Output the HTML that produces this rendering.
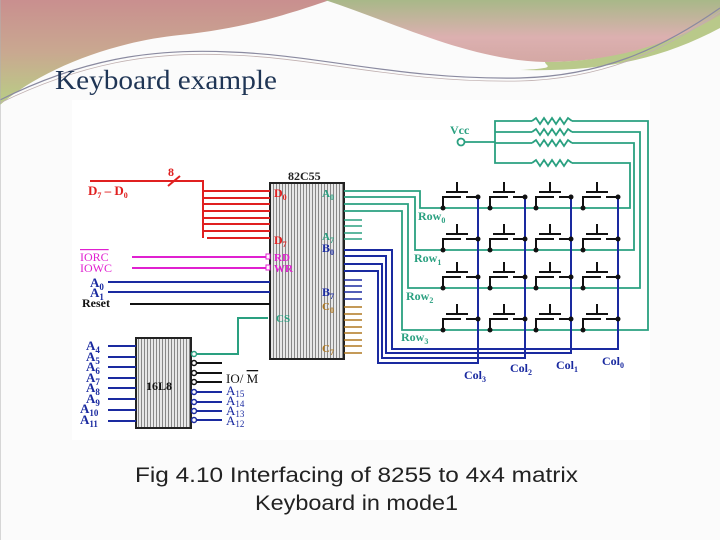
<!DOCTYPE html>
<html><head><meta charset="utf-8"><style>
html,body{margin:0;padding:0;background:#fff;}
svg{display:block}
</style></head><body>
<svg width="720" height="540" viewBox="0 0 720 540" xmlns="http://www.w3.org/2000/svg">
<defs>
<linearGradient id="g1" x1="0" y1="0" x2="0" y2="1"><stop offset="0" stop-color="#c98f8f"/><stop offset="0.5" stop-color="#c9a890"/><stop offset="1" stop-color="#b8cf85"/></linearGradient>
<linearGradient id="g2" x1="0" y1="0" x2="0" y2="1"><stop offset="0" stop-color="#a8b888"/><stop offset="0.6" stop-color="#dcb0b0"/><stop offset="1" stop-color="#d4a8a4"/></linearGradient>
<pattern id="dots" width="3" height="3" patternUnits="userSpaceOnUse"><rect width="3" height="3" fill="#e8e8e8"/><rect width="1" height="3" fill="#888"/></pattern>
</defs>
<rect width="720" height="540" fill="#fbfbfb"/>
<path d="M0,0 L330,0 C300,10 250,28 180,35 C110,42 40,70 0,105 Z" fill="url(#g1)"/>
<path d="M325,0 L720,0 L720,25 C660,50 600,62 545,62 C470,60 400,25 325,0 Z" fill="url(#g2)"/>
<path d="M545,62 C610,62 670,45 720,15 L720,28 C660,60 600,72 520,70 C560,68 545,66 545,62 Z" fill="#b9c98a"/>
<path d="M0,100 C80,60 150,48 230,52 C320,55 400,80 520,78 C600,76 660,50 720,8" fill="none" stroke="#8a8aa0" stroke-width="1.2"/>
<path d="M0,103 C80,64 150,51 230,55 C320,58 400,83 520,81 C600,79 660,53 720,12" fill="none" stroke="#c0b0b0" stroke-width="0.8"/>
<line x1="0" y1="0" x2="0" y2="540" stroke="#b0b0b0" stroke-width="1"/>
<text x="55" y="89" font-family="Liberation Serif, serif" font-size="27" fill="#1f3555" textLength="222" lengthAdjust="spacingAndGlyphs">Keyboard example</text>

<rect x="72" y="100" width="578" height="340" fill="#fff"/>

<rect x="270" y="183" width="74" height="176" fill="url(#dots)" stroke="#222" stroke-width="2"/>
<text x="288" y="180" font-family="Liberation Serif, serif" font-weight="bold" font-size="12" fill="#222">82C55</text>
<g stroke="#e02020" stroke-width="2" fill="none">
<polyline points="90,181 203,181 203,238"/>
<line x1="168" y1="186" x2="180" y2="176"/>
<line x1="203" y1="191" x2="270" y2="191"/><line x1="203" y1="198" x2="270" y2="198"/>
<line x1="203" y1="204" x2="270" y2="204"/><line x1="203" y1="211" x2="270" y2="211"/>
<line x1="203" y1="218" x2="270" y2="218"/><line x1="203" y1="224" x2="270" y2="224"/>
<line x1="203" y1="231" x2="270" y2="231"/><line x1="207" y1="238" x2="270" y2="238"/>
</g>
<text x="168" y="176" font-family="Liberation Serif, serif" font-weight="bold" font-size="12" fill="#e02020">8</text>
<text x="88" y="195" font-family="Liberation Serif, serif" font-weight="bold" font-size="13" fill="#e02020">D<tspan font-size="8" dy="3">7</tspan><tspan dy="-3"> – D</tspan><tspan font-size="8" dy="3">0</tspan></text>
<text x="274" y="197" font-family="Liberation Serif, serif" font-weight="bold" font-size="12" fill="#e02020">D<tspan font-size="8" dy="3">0</tspan></text>
<text x="274" y="244" font-family="Liberation Serif, serif" font-weight="bold" font-size="12" fill="#e02020">D<tspan font-size="8" dy="3">7</tspan></text>
<g stroke="#e020d0" stroke-width="2"><line x1="132" y1="257" x2="266" y2="257"/><line x1="132" y1="268" x2="266" y2="268"/></g>
<rect x="266" y="254" width="4" height="5" fill="#fff" stroke="#e020d0"/><rect x="266" y="265" width="4" height="5" fill="#fff" stroke="#e020d0"/>
<text x="80" y="261" font-family="Liberation Serif, serif" font-size="12" fill="#e020d0" text-decoration="overline">IORC</text>
<text x="80" y="272" font-family="Liberation Serif, serif" font-size="12" fill="#e020d0">IOWC</text>
<text x="274" y="261" font-family="Liberation Serif, serif" font-weight="bold" font-size="11" fill="#e020d0">RD</text>
<text x="274" y="272" font-family="Liberation Serif, serif" font-weight="bold" font-size="11" fill="#e020d0">WR</text>
<g stroke="#1a2aa0" stroke-width="2"><line x1="108" y1="282" x2="270" y2="282"/><line x1="108" y1="292" x2="270" y2="292"/></g>
<line x1="130" y1="304" x2="270" y2="304" stroke="#111" stroke-width="2"/>
<text x="90" y="287" font-family="Liberation Serif, serif" font-weight="bold" font-size="13" fill="#1a2aa0">A<tspan font-size="9" dy="3">0</tspan></text>
<text x="90" y="297" font-family="Liberation Serif, serif" font-weight="bold" font-size="13" fill="#1a2aa0">A<tspan font-size="9" dy="3">1</tspan></text>
<text x="82" y="307" font-family="Liberation Serif, serif" font-weight="bold" font-size="12" fill="#111">Reset</text>
<polyline points="196,354 238,354 238,318 268,318" fill="none" stroke="#2aa080" stroke-width="2"/>
<text x="276" y="322" font-family="Liberation Serif, serif" font-weight="bold" font-size="11" fill="#2aa080">CS</text>
<text x="322" y="197" font-family="Liberation Serif, serif" font-weight="bold" font-size="11" fill="#2aa080">A<tspan font-size="8" dy="3">0</tspan></text>
<text x="322" y="240" font-family="Liberation Serif, serif" font-weight="bold" font-size="11" fill="#2aa080">A<tspan font-size="8" dy="3">7</tspan></text>
<text x="322" y="252" font-family="Liberation Serif, serif" font-weight="bold" font-size="12" fill="#1a2aa0">B<tspan font-size="8" dy="3">0</tspan></text>
<text x="322" y="296" font-family="Liberation Serif, serif" font-weight="bold" font-size="12" fill="#1a2aa0">B<tspan font-size="8" dy="3">7</tspan></text>
<text x="322" y="310" font-family="Liberation Serif, serif" font-weight="bold" font-size="11" fill="#b07820">C<tspan font-size="8" dy="3">0</tspan></text>
<text x="322" y="352" font-family="Liberation Serif, serif" font-weight="bold" font-size="11" fill="#b07820">C<tspan font-size="8" dy="3">7</tspan></text>
<g stroke="#2aa080" stroke-width="1.6">
<line x1="344" y1="220" x2="362" y2="220"/><line x1="344" y1="226" x2="362" y2="226"/><line x1="344" y1="233" x2="362" y2="233"/><line x1="344" y1="239" x2="362" y2="239"/>
</g>
<g stroke="#1a2aa0" stroke-width="1.6">
<line x1="344" y1="280" x2="362" y2="280"/><line x1="344" y1="286" x2="362" y2="286"/><line x1="344" y1="292" x2="362" y2="292"/><line x1="344" y1="299" x2="362" y2="299"/>
</g>
<g stroke="#b07820" stroke-width="1.6">
<line x1="344" y1="307" x2="362" y2="307"/><line x1="344" y1="314" x2="362" y2="314"/><line x1="344" y1="320" x2="362" y2="320"/><line x1="344" y1="327" x2="362" y2="327"/><line x1="344" y1="333" x2="362" y2="333"/><line x1="344" y1="340" x2="362" y2="340"/><line x1="344" y1="346" x2="362" y2="346"/><line x1="344" y1="353" x2="362" y2="353"/>
</g>
<g fill="none" stroke="#2aa080" stroke-width="1.8">
<polyline points="344,191 420,191 420,208 630,208 630,163 572,163"/>
<polyline points="344,197 415,197 415,250 634,250 634,143 572,143"/>
<polyline points="344,204 408,204 408,288 640,288 640,132 572,132"/>
<polyline points="344,211 402,211 402,330 648,330 648,121 572,121"/>
<polyline points="461,142 495,142"/>
<polyline points="532,121 495,121 495,163 532,163"/>
<line x1="495" y1="132" x2="532" y2="132"/><line x1="495" y1="143" x2="532" y2="143"/>
<polyline points="532,121 536,118 540,124 544,118 548,124 552,118 556,124 560,118 564,124 568,118 572,121"/>
<polyline points="532,132 536,129 540,135 544,129 548,135 552,129 556,135 560,129 564,135 568,129 572,132"/>
<polyline points="532,143 536,140 540,146 544,140 548,146 552,140 556,146 560,140 564,146 568,140 572,143"/>
<polyline points="532,163 536,160 540,166 544,160 548,166 552,160 556,166 560,160 564,166 568,160 572,163"/>
</g>
<circle cx="461" cy="142" r="3.5" fill="#fff" stroke="#2aa080" stroke-width="1.8"/>
<text x="450" y="134" font-family="Liberation Serif, serif" font-weight="bold" font-size="12" fill="#2aa080">Vcc</text>
<g font-family="Liberation Serif, serif" font-weight="bold" font-size="12" fill="#2aa080">
<text x="418" y="220">Row<tspan font-size="8" dy="3">0</tspan></text>
<text x="414" y="262">Row<tspan font-size="8" dy="3">1</tspan></text>
<text x="406" y="300">Row<tspan font-size="8" dy="3">2</tspan></text>
<text x="401" y="341">Row<tspan font-size="8" dy="3">3</tspan></text>
</g>
<g fill="none" stroke="#1a2aa0" stroke-width="2">
<polyline points="344,271 378,271 378,363 478,363 478,197"/>
<polyline points="344,264 382,264 382,358 525,358 525,197"/>
<polyline points="344,256 386,256 386,353 571,353 571,197"/>
<polyline points="344,250 392,250 392,349 618,349 618,197"/>
</g>
<g font-family="Liberation Serif, serif" font-weight="bold" font-size="12" fill="#1a2aa0">
<text x="464" y="379">Col<tspan font-size="8" dy="3">3</tspan></text>
<text x="510" y="372">Col<tspan font-size="8" dy="3">2</tspan></text>
<text x="556" y="369">Col<tspan font-size="8" dy="3">1</tspan></text>
<text x="602" y="365">Col<tspan font-size="8" dy="3">0</tspan></text>
</g>
<g stroke="#111" stroke-width="2" fill="#111">
<g id="r0">
 <g transform="translate(478,208)"><polyline fill="none" points="-35,0 -35,-11 -17,-11"/><line x1="-12" y1="-11" x2="0" y2="-11"/><line x1="-32" y1="-16" x2="-10" y2="-16"/><line x1="-21" y1="-26" x2="-21" y2="-16"/><circle cx="-35" cy="0" r="2.5" stroke="none"/><circle cx="0" cy="-11" r="2.5" stroke="none"/></g>
 <g transform="translate(525,208)"><polyline fill="none" points="-35,0 -35,-11 -17,-11"/><line x1="-12" y1="-11" x2="0" y2="-11"/><line x1="-32" y1="-16" x2="-10" y2="-16"/><line x1="-21" y1="-26" x2="-21" y2="-16"/><circle cx="-35" cy="0" r="2.5" stroke="none"/><circle cx="0" cy="-11" r="2.5" stroke="none"/></g>
 <g transform="translate(571,208)"><polyline fill="none" points="-35,0 -35,-11 -17,-11"/><line x1="-12" y1="-11" x2="0" y2="-11"/><line x1="-32" y1="-16" x2="-10" y2="-16"/><line x1="-21" y1="-26" x2="-21" y2="-16"/><circle cx="-35" cy="0" r="2.5" stroke="none"/><circle cx="0" cy="-11" r="2.5" stroke="none"/></g>
 <g transform="translate(618,208)"><polyline fill="none" points="-35,0 -35,-11 -17,-11"/><line x1="-12" y1="-11" x2="0" y2="-11"/><line x1="-32" y1="-16" x2="-10" y2="-16"/><line x1="-21" y1="-26" x2="-21" y2="-16"/><circle cx="-35" cy="0" r="2.5" stroke="none"/><circle cx="0" cy="-11" r="2.5" stroke="none"/></g>
</g>
<use href="#r0" transform="translate(0,42)"/>
<use href="#r0" transform="translate(0,80)"/>
<use href="#r0" transform="translate(0,122)"/>
</g>
<rect x="136" y="338" width="55" height="90" fill="url(#dots)" stroke="#222" stroke-width="2"/>
<text x="146" y="390" font-family="Liberation Serif, serif" font-weight="bold" font-size="12" fill="#111">16L8</text>
<g stroke="#1a2aa0" stroke-width="2">
<line x1="108" y1="346" x2="136" y2="346"/><line x1="108" y1="357" x2="136" y2="357"/><line x1="108" y1="367" x2="136" y2="367"/><line x1="108" y1="378" x2="136" y2="378"/>
<line x1="108" y1="388" x2="136" y2="388"/><line x1="108" y1="399" x2="136" y2="399"/><line x1="108" y1="410" x2="136" y2="410"/><line x1="108" y1="421" x2="136" y2="421"/>
</g>
<g font-family="Liberation Serif, serif" font-weight="bold" font-size="13" fill="#1a2aa0">
<text x="86" y="350">A<tspan font-size="9" dy="3">4</tspan></text>
<text x="86" y="361">A<tspan font-size="9" dy="3">5</tspan></text>
<text x="86" y="371">A<tspan font-size="9" dy="3">6</tspan></text>
<text x="86" y="382">A<tspan font-size="9" dy="3">7</tspan></text>
<text x="86" y="392">A<tspan font-size="9" dy="3">8</tspan></text>
<text x="86" y="403">A<tspan font-size="9" dy="3">9</tspan></text>
<text x="80" y="413">A<tspan font-size="9" dy="3">10</tspan></text>
<text x="80" y="424">A<tspan font-size="9" dy="3">11</tspan></text>
</g>
<g stroke="#111" stroke-width="2"><line x1="197" y1="363" x2="222" y2="363"/><line x1="197" y1="373" x2="222" y2="373"/><line x1="197" y1="382" x2="222" y2="382"/></g>
<g stroke="#1a2aa0" stroke-width="2"><line x1="197" y1="392" x2="222" y2="392"/><line x1="197" y1="402" x2="222" y2="402"/><line x1="197" y1="411" x2="222" y2="411"/><line x1="197" y1="420" x2="222" y2="420"/></g>
<g fill="#fff" stroke-width="1.5">
<circle cx="194" cy="354" r="2.5" stroke="#2aa080"/>
<circle cx="194" cy="363" r="2.5" stroke="#111"/><circle cx="194" cy="373" r="2.5" stroke="#111"/><circle cx="194" cy="382" r="2.5" stroke="#111"/>
<circle cx="194" cy="392" r="2.5" stroke="#1a2aa0"/><circle cx="194" cy="402" r="2.5" stroke="#1a2aa0"/><circle cx="194" cy="411" r="2.5" stroke="#1a2aa0"/><circle cx="194" cy="420" r="2.5" stroke="#1a2aa0"/>
</g>
<text x="226" y="383" font-family="Liberation Serif, serif" font-size="13" fill="#111">IO/ <tspan text-decoration="overline">M</tspan></text>
<g font-family="Liberation Serif, serif" font-size="13" fill="#1a2aa0">
<text x="226" y="395">A<tspan font-size="9" dy="2">15</tspan></text>
<text x="226" y="405">A<tspan font-size="9" dy="2">14</tspan></text>
<text x="226" y="415">A<tspan font-size="9" dy="2">13</tspan></text>
<text x="226" y="425">A<tspan font-size="9" dy="2">12</tspan></text>
</g>
<g font-family="Liberation Sans, sans-serif" font-size="21" fill="#222">
<text x="135" y="482" textLength="443" lengthAdjust="spacingAndGlyphs">Fig 4.10 Interfacing of 8255 to 4x4 matrix</text>
<text x="255" y="510" textLength="203" lengthAdjust="spacingAndGlyphs">Keyboard in mode1</text>
</g>
</svg>
</body></html>
